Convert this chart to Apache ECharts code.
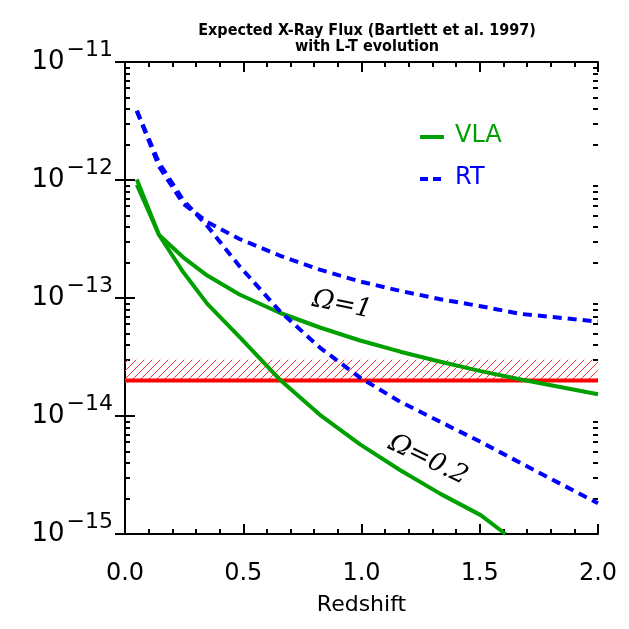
<!DOCTYPE html>
<html><head><meta charset="utf-8">
<script src="https://cdn.jsdelivr.net/npm/echarts@6/dist/echarts.min.js"></script>
<style>html,body{margin:0;background:#fff}#c{width:629px;height:629px}</style></head>
<body><div id="c"></div>
<script>
const vlaOmega1 = [[0.05,-11.995],[0.144,-12.466],[0.246,-12.655],[0.348,-12.81],[0.484,-12.97],[0.654,-13.125],[0.824,-13.25],[0.994,-13.36],[1.164,-13.455],[1.334,-13.54],[1.504,-13.62],[1.674,-13.69],[2.0,-13.815]];
const vlaOmega02 = [[0.05,-12.04],[0.144,-12.466],[0.246,-12.78],[0.348,-13.05],[0.484,-13.33],[0.654,-13.69],[0.824,-13.99],[0.994,-14.24],[1.164,-14.46],[1.334,-14.66],[1.504,-14.84],[1.609,-15.0]];
const rtOmega1 = [[0.05,-11.414],[0.144,-11.885],[0.246,-12.2],[0.348,-12.356],[0.484,-12.5],[0.654,-12.64],[0.824,-12.76],[0.994,-12.86],[1.164,-12.94],[1.334,-13.01],[1.504,-13.07],[1.674,-13.135],[2.0,-13.2]];
const rtOmega02 = [[0.05,-11.414],[0.144,-11.854],[0.246,-12.17],[0.348,-12.39],[0.484,-12.73],[0.654,-13.11],[0.824,-13.42],[0.994,-13.675],[1.164,-13.88],[1.334,-14.05],[1.504,-14.22],[1.674,-14.40],[2.0,-14.74]];
const fluxLimit = 2e-14, fluxBandTop = 3e-14;
const decades = [-15,-14,-13,-12];
const toVal = a => a.map(p => [p[0], Math.pow(10, p[1])]);
const minorVals = [];
decades.forEach(d => { for (let k = 2; k <= 9; k++) minorVals.push(k * Math.pow(10, d)); });

const pc = document.createElement('canvas'); pc.width = 8; pc.height = 8;
const g = pc.getContext('2d'); g.strokeStyle = '#ff3030'; g.lineWidth = 1;
g.beginPath(); g.moveTo(0,8); g.lineTo(8,0); g.moveTo(-1,1); g.lineTo(1,-1); g.moveTo(7,9); g.lineTo(9,7); g.stroke();

const chart = echarts.init(document.getElementById('c'));
const axLine = {lineStyle:{color:'#000',width:2}};
const tk = (len) => ({inside:true, length:len, lineStyle:{width:2,color:'#000'}});
const sup = v => { const e = Math.round(Math.log10(v)); return '{b|10}{s|\u2212' + (-e) + '}'; };
const yBase = {type:'log', min:1e-15, max:1e-11, logBase:10, splitLine:{show:false}};
chart.setOption({
  animation:false,
  title:{text:'Expected X-Ray Flux (Bartlett et al. 1997)\nwith L-T evolution', left:362, top:18, textAlign:'center',
    textStyle:{fontSize:16, fontWeight:'bold', fontFamily:'DejaVu Sans Condensed', color:'#000', lineHeight:16}},
  grid:{left:125, right:31, top:62, bottom:95},
  xAxis:[{type:'value', min:0, max:2, interval:0.5, name:'Redshift', nameLocation:'middle', nameGap:60,
    nameTextStyle:{fontSize:22, fontFamily:'DejaVu Sans', color:'#000'},
    axisLine:axLine, axisTick:tk(10),
    minorTick:{show:true, splitNumber:5, length:5, lineStyle:{width:2,color:'#000'}},
    splitLine:{show:false}, axisLabel:{fontSize:24, color:'#000', fontFamily:'DejaVu Sans', margin:28, formatter:v=>v.toFixed(1)}},
    {type:'value', min:0, max:2, interval:0.5, position:'top', axisLine:axLine, axisTick:tk(10),
    minorTick:{show:true, splitNumber:5, length:5, lineStyle:{width:2,color:'#000'}}, axisLabel:{show:false}, splitLine:{show:false}}],
  yAxis:[
    Object.assign({}, yBase, {position:'left', axisLine:axLine, axisTick:tk(10),
      axisLabel:{formatter:sup, margin:12, rich:{b:{fontSize:26,fontFamily:'DejaVu Sans',color:'#000'},
        s:{fontSize:22,fontFamily:'DejaVu Sans',color:'#000',padding:[0,0,24,2]}}}}),
    Object.assign({}, yBase, {position:'right', axisLine:axLine, axisTick:tk(10), axisLabel:{show:false}}),
    Object.assign({}, yBase, {position:'left', axisLine:{show:false}, axisTick:Object.assign(tk(5), {customValues:minorVals}), axisLabel:{show:false}}),
    Object.assign({}, yBase, {position:'right', axisLine:{show:false}, axisTick:Object.assign(tk(5), {customValues:minorVals}), axisLabel:{show:false}})
  ],
  series:[
    {type:'line', data:toVal(vlaOmega1), symbol:'none', lineStyle:{color:'#00a000', width:4}, z:3},
    {type:'line', data:toVal(vlaOmega02), symbol:'none', lineStyle:{color:'#00a000', width:4}, z:3},
    {type:'line', data:toVal(rtOmega1), symbol:'none', lineStyle:{color:'#0000ff', width:4, type:[9,6]}, z:4},
    {type:'line', data:toVal(rtOmega02), symbol:'none', lineStyle:{color:'#0000ff', width:4, type:[9,6]}, z:4},
    {type:'line', data:[[0,fluxLimit],[2,fluxLimit]], symbol:'none', lineStyle:{color:'#ff0000', width:4}, z:2,
      markArea:{silent:true, itemStyle:{color:{image:pc, repeat:'repeat'}, opacity:1}, data:[[{yAxis:fluxLimit, xAxis:0},{yAxis:fluxBandTop, xAxis:2}]]}}
  ],
  graphic:[
    {type:'line', shape:{x1:420,y1:137,x2:444,y2:137}, style:{stroke:'#00a000', lineWidth:4}},
    {type:'text', left:455, top:124, style:{text:'VLA', fontSize:24, fill:'#00a000', fontFamily:'DejaVu Sans'}},
    {type:'line', shape:{x1:420,y1:179,x2:444,y2:179}, style:{stroke:'#0000ff', lineWidth:4, lineDash:[8,5]}},
    {type:'text', left:455, top:166, style:{text:'RT', fontSize:24, fill:'#0000ff', fontFamily:'DejaVu Sans'}},
    {type:'text', x:342, y:305, rotation:-0.2, style:{text:'Ω=1', fontSize:26, fontStyle:'italic', fontFamily:'DejaVu Serif', fill:'#000', align:'center', verticalAlign:'middle'}},
    {type:'text', x:428, y:460, rotation:-0.45, style:{text:'Ω=0.2', fontSize:26, fontStyle:'italic', fontFamily:'DejaVu Serif', fill:'#000', align:'center', verticalAlign:'middle'}}
  ]
});
</script></body></html>
